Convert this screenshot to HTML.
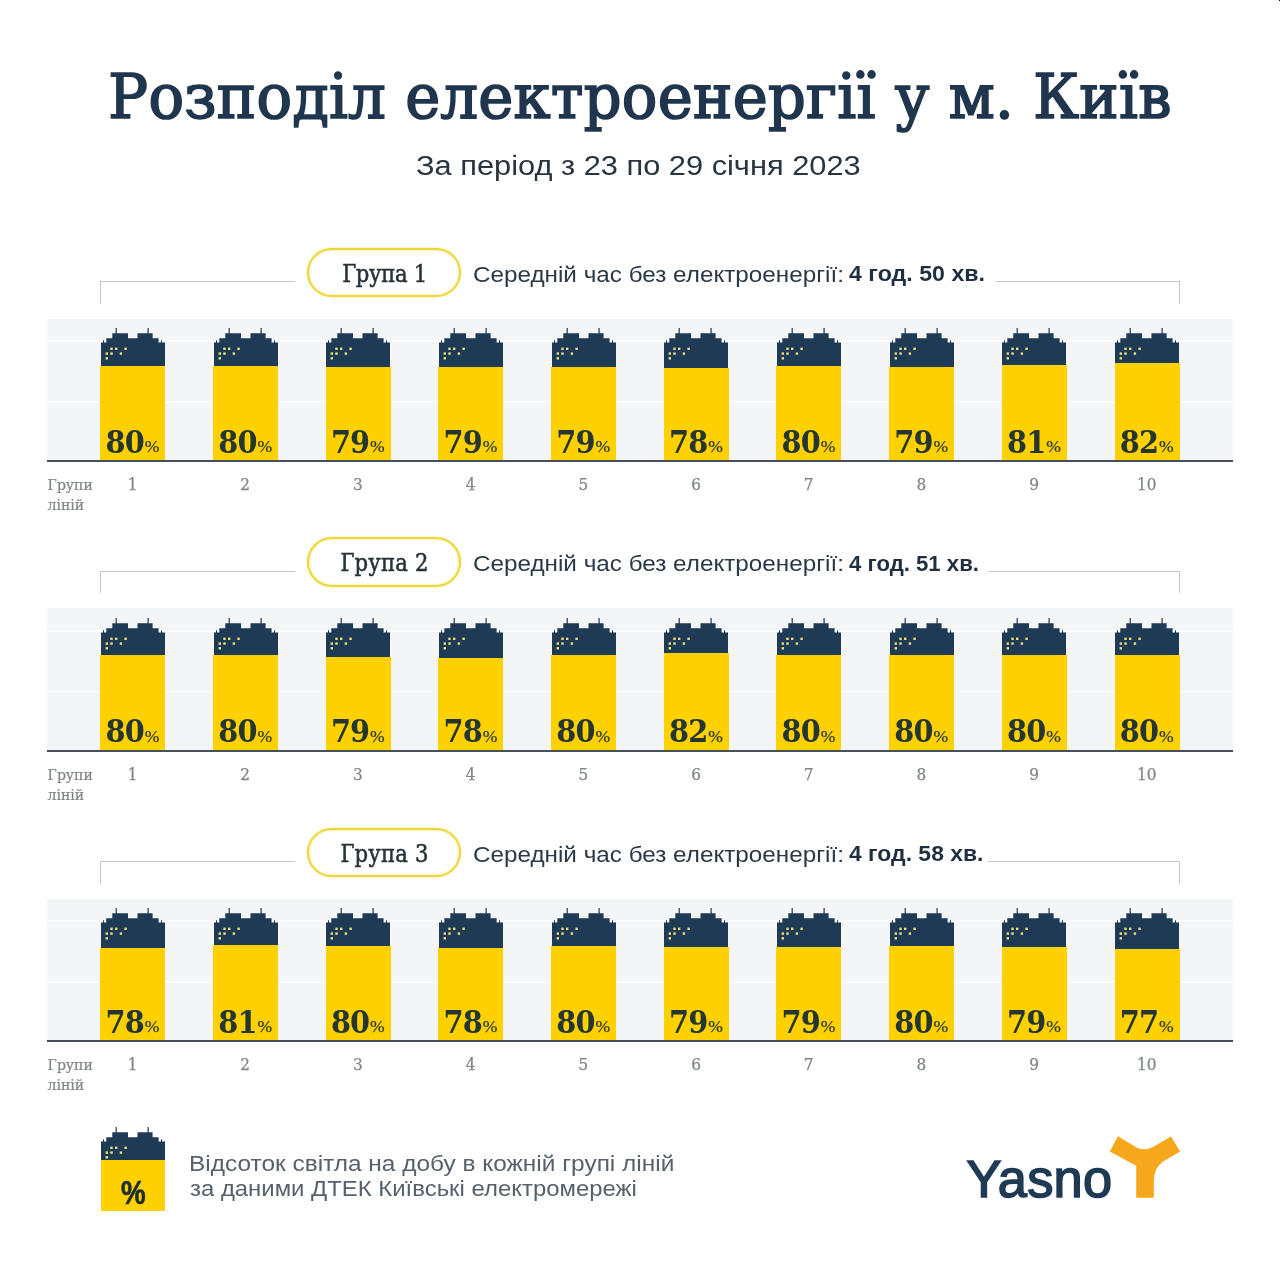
<!DOCTYPE html><html lang="uk"><head><meta charset="utf-8"><title>Розподіл електроенергії у м. Київ</title><style>
*{margin:0;padding:0;box-sizing:border-box}
html,body{width:1280px;height:1280px;background:#fff;overflow:hidden}
body{position:relative;font-family:"Liberation Sans",sans-serif;color:#1f3a54}
.abs{position:absolute;white-space:nowrap;line-height:1}
.title{left:0;width:1280px;text-align:center;top:65.8px;font-family:"DejaVu Serif Condensed","DejaVu Serif","Liberation Serif",serif;font-size:62.5px;color:#1f364e;-webkit-text-stroke:1.7px #1f364e;letter-spacing:0.3px;transform:scaleX(1.0505);transform-origin:639px 0}
.sub{font-size:28.4px;color:#28343f;transform:scaleX(1.0845);transform-origin:0 0}
.group{position:absolute;left:0;width:1280px;height:290px}
.band{position:absolute;left:47px;width:1186px;top:318.6px;height:142px;background:#f4f5f7}
.grid{position:absolute;left:47px;width:1186px;height:1.6px;background:rgba(255,255,255,.7)}
.axis{position:absolute;left:47px;width:1186px;top:460.2px;height:2px;background:#46505b}
.pill{position:absolute;left:307.4px;top:247.8px;width:153.2px;height:49.4px;border:2.7px solid #ecd63e;border-radius:25px;background:#fff;box-shadow:0 0 2.5px 0.5px rgba(245,232,120,.55),inset 0 0 2px 1px rgba(250,240,150,.7)}
.ptxt{font-family:"DejaVu Serif Condensed","DejaVu Serif","Liberation Serif",serif;font-size:23.5px;color:#263238;-webkit-text-stroke:0.5px #263238;letter-spacing:-0.35px}
.avg{font-size:22.5px;color:#2b3947;transform:scaleX(1.0778);transform-origin:0 0}
.avgb{font-size:21.4px;font-weight:bold;color:#1f2f40;transform:scaleX(1.084);transform-origin:0 0}
.br{position:absolute;border-top:1.3px solid #c4c6c8;height:22.6px;top:281.1px}
.brl{left:99.8px;width:195.5px;border-left:1.3px solid #c4c6c8}
.brr{left:996px;width:183.5px;border-right:1.3px solid #c4c6c8}
.bld{position:absolute;width:66px;height:134px;top:327px}
.num{font-family:"DejaVu Serif Condensed","DejaVu Serif","Liberation Serif",serif;font-weight:bold;font-size:32px;color:#25352f;letter-spacing:-0.8px}
.pct{font-family:"Liberation Serif",serif;font-size:17.6px;color:#2d3a30;-webkit-text-stroke:0.25px #2d3a30}
.ax{font-family:"DejaVu Serif Condensed","DejaVu Serif","Liberation Serif",serif;font-size:17px;color:#7f858b;-webkit-text-stroke:0.25px #7f858b;text-align:center;width:40px}
.gl{font-family:"DejaVu Serif Condensed","DejaVu Serif","Liberation Serif",serif;font-size:15.6px;color:#7f8489;-webkit-text-stroke:0.2px #7f8489;line-height:20.3px;white-space:normal;width:60px}
.leg{font-size:21px;color:#56616c}
</style></head><body>
<div class="abs title" id="title">Розподіл електроенергії у м. Київ</div>
<div class="abs sub" id="sub" style="left:416px;top:151.2px">За період з 23 по 29 січня 2023</div>
<div class="group" id="g0" style="top:0.0px">
<div class="br brl"></div><div class="br brr" style="left:995.6px;width:184.4px"></div>
<div class="pill"></div><div class="abs ptxt" style="left:308px;width:153px;text-align:center;top:262.8px;letter-spacing:-0.3px">Група 1</div>
<div class="abs avg" style="left:472.5px;top:263.7px">Середній час без електроенергії:</div>
<div class="abs avgb" style="left:849.3px;top:264.1px;transform:scaleX(1.084)">4 год. 50 хв.</div>
<div class="band"></div><div class="grid" style="top:340.4px"></div><div class="grid" style="top:401px"></div>
<svg class="bld" style="left:99.8px" viewBox="0 0 66 134"><path fill="#1f3a54" d="M1,133.5V15.5H3V13.2H4V15.5H6.3V11.2H12.3V6.2H15.6V1H16.8V6.2H28V11.2H37.5V6.2H47.5V1H48.7V6.2H52.6V11.2H58.6V15.5H61V13.2H62V15.5H65V133.5Z"/><g fill="#e9e07c"><rect x="10.3" y="20.6" width="2.4" height="2.4"/><rect x="15" y="20.6" width="2.4" height="2.4"/><rect x="24.4" y="20.6" width="2.4" height="2.4"/><rect x="5.6" y="25.4" width="2.4" height="2.4"/><rect x="10.3" y="25.4" width="2.4" height="2.4"/><rect x="19.7" y="25.4" width="2.4" height="2.4"/><rect x="5.6" y="30.1" width="2.4" height="2.4"/></g></svg>
<div style="position:absolute;left:100.3px;width:65px;top:365.8px;height:94.8px;background:#ffd100"></div>
<div class="abs num" style="left:105.5px;top:425.6px">80</div><div class="abs pct" style="left:144.8px;top:438.1px">%</div>
<div class="abs ax" style="left:112.5px;top:476.1px">1</div>
<svg class="bld" style="left:212.5px" viewBox="0 0 66 134"><path fill="#1f3a54" d="M1,133.5V15.5H3V13.2H4V15.5H6.3V11.2H12.3V6.2H15.6V1H16.8V6.2H28V11.2H37.5V6.2H47.5V1H48.7V6.2H52.6V11.2H58.6V15.5H61V13.2H62V15.5H65V133.5Z"/><g fill="#e9e07c"><rect x="10.3" y="20.6" width="2.4" height="2.4"/><rect x="15" y="20.6" width="2.4" height="2.4"/><rect x="24.4" y="20.6" width="2.4" height="2.4"/><rect x="5.6" y="25.4" width="2.4" height="2.4"/><rect x="10.3" y="25.4" width="2.4" height="2.4"/><rect x="19.7" y="25.4" width="2.4" height="2.4"/><rect x="5.6" y="30.1" width="2.4" height="2.4"/></g></svg>
<div style="position:absolute;left:213.0px;width:65px;top:365.8px;height:94.8px;background:#ffd100"></div>
<div class="abs num" style="left:218.2px;top:425.6px">80</div><div class="abs pct" style="left:257.4px;top:438.1px">%</div>
<div class="abs ax" style="left:225.2px;top:476.1px">2</div>
<svg class="bld" style="left:325.2px" viewBox="0 0 66 134"><path fill="#1f3a54" d="M1,133.5V15.5H3V13.2H4V15.5H6.3V11.2H12.3V6.2H15.6V1H16.8V6.2H28V11.2H37.5V6.2H47.5V1H48.7V6.2H52.6V11.2H58.6V15.5H61V13.2H62V15.5H65V133.5Z"/><g fill="#e9e07c"><rect x="10.3" y="20.6" width="2.4" height="2.4"/><rect x="15" y="20.6" width="2.4" height="2.4"/><rect x="24.4" y="20.6" width="2.4" height="2.4"/><rect x="5.6" y="25.4" width="2.4" height="2.4"/><rect x="10.3" y="25.4" width="2.4" height="2.4"/><rect x="19.7" y="25.4" width="2.4" height="2.4"/><rect x="5.6" y="30.1" width="2.4" height="2.4"/></g></svg>
<div style="position:absolute;left:325.7px;width:65px;top:367.0px;height:93.6px;background:#ffd100"></div>
<div class="abs num" style="left:330.9px;top:425.6px">79</div><div class="abs pct" style="left:370.1px;top:438.1px">%</div>
<div class="abs ax" style="left:337.9px;top:476.1px">3</div>
<svg class="bld" style="left:437.9px" viewBox="0 0 66 134"><path fill="#1f3a54" d="M1,133.5V15.5H3V13.2H4V15.5H6.3V11.2H12.3V6.2H15.6V1H16.8V6.2H28V11.2H37.5V6.2H47.5V1H48.7V6.2H52.6V11.2H58.6V15.5H61V13.2H62V15.5H65V133.5Z"/><g fill="#e9e07c"><rect x="10.3" y="20.6" width="2.4" height="2.4"/><rect x="15" y="20.6" width="2.4" height="2.4"/><rect x="24.4" y="20.6" width="2.4" height="2.4"/><rect x="5.6" y="25.4" width="2.4" height="2.4"/><rect x="10.3" y="25.4" width="2.4" height="2.4"/><rect x="19.7" y="25.4" width="2.4" height="2.4"/><rect x="5.6" y="30.1" width="2.4" height="2.4"/></g></svg>
<div style="position:absolute;left:438.4px;width:65px;top:367.0px;height:93.6px;background:#ffd100"></div>
<div class="abs num" style="left:443.6px;top:425.6px">79</div><div class="abs pct" style="left:482.8px;top:438.1px">%</div>
<div class="abs ax" style="left:450.6px;top:476.1px">4</div>
<svg class="bld" style="left:550.6px" viewBox="0 0 66 134"><path fill="#1f3a54" d="M1,133.5V15.5H3V13.2H4V15.5H6.3V11.2H12.3V6.2H15.6V1H16.8V6.2H28V11.2H37.5V6.2H47.5V1H48.7V6.2H52.6V11.2H58.6V15.5H61V13.2H62V15.5H65V133.5Z"/><g fill="#e9e07c"><rect x="10.3" y="20.6" width="2.4" height="2.4"/><rect x="15" y="20.6" width="2.4" height="2.4"/><rect x="24.4" y="20.6" width="2.4" height="2.4"/><rect x="5.6" y="25.4" width="2.4" height="2.4"/><rect x="10.3" y="25.4" width="2.4" height="2.4"/><rect x="19.7" y="25.4" width="2.4" height="2.4"/><rect x="5.6" y="30.1" width="2.4" height="2.4"/></g></svg>
<div style="position:absolute;left:551.1px;width:65px;top:367.0px;height:93.6px;background:#ffd100"></div>
<div class="abs num" style="left:556.3px;top:425.6px">79</div><div class="abs pct" style="left:595.5px;top:438.1px">%</div>
<div class="abs ax" style="left:563.3px;top:476.1px">5</div>
<svg class="bld" style="left:663.3px" viewBox="0 0 66 134"><path fill="#1f3a54" d="M1,133.5V15.5H3V13.2H4V15.5H6.3V11.2H12.3V6.2H15.6V1H16.8V6.2H28V11.2H37.5V6.2H47.5V1H48.7V6.2H52.6V11.2H58.6V15.5H61V13.2H62V15.5H65V133.5Z"/><g fill="#e9e07c"><rect x="10.3" y="20.6" width="2.4" height="2.4"/><rect x="15" y="20.6" width="2.4" height="2.4"/><rect x="24.4" y="20.6" width="2.4" height="2.4"/><rect x="5.6" y="25.4" width="2.4" height="2.4"/><rect x="10.3" y="25.4" width="2.4" height="2.4"/><rect x="19.7" y="25.4" width="2.4" height="2.4"/><rect x="5.6" y="30.1" width="2.4" height="2.4"/></g></svg>
<div style="position:absolute;left:663.8px;width:65px;top:368.2px;height:92.4px;background:#ffd100"></div>
<div class="abs num" style="left:669.0px;top:425.6px">78</div><div class="abs pct" style="left:708.2px;top:438.1px">%</div>
<div class="abs ax" style="left:676.0px;top:476.1px">6</div>
<svg class="bld" style="left:775.9px" viewBox="0 0 66 134"><path fill="#1f3a54" d="M1,133.5V15.5H3V13.2H4V15.5H6.3V11.2H12.3V6.2H15.6V1H16.8V6.2H28V11.2H37.5V6.2H47.5V1H48.7V6.2H52.6V11.2H58.6V15.5H61V13.2H62V15.5H65V133.5Z"/><g fill="#e9e07c"><rect x="10.3" y="20.6" width="2.4" height="2.4"/><rect x="15" y="20.6" width="2.4" height="2.4"/><rect x="24.4" y="20.6" width="2.4" height="2.4"/><rect x="5.6" y="25.4" width="2.4" height="2.4"/><rect x="10.3" y="25.4" width="2.4" height="2.4"/><rect x="19.7" y="25.4" width="2.4" height="2.4"/><rect x="5.6" y="30.1" width="2.4" height="2.4"/></g></svg>
<div style="position:absolute;left:776.4px;width:65px;top:365.8px;height:94.8px;background:#ffd100"></div>
<div class="abs num" style="left:781.6px;top:425.6px">80</div><div class="abs pct" style="left:820.8px;top:438.1px">%</div>
<div class="abs ax" style="left:788.6px;top:476.1px">7</div>
<svg class="bld" style="left:888.6px" viewBox="0 0 66 134"><path fill="#1f3a54" d="M1,133.5V15.5H3V13.2H4V15.5H6.3V11.2H12.3V6.2H15.6V1H16.8V6.2H28V11.2H37.5V6.2H47.5V1H48.7V6.2H52.6V11.2H58.6V15.5H61V13.2H62V15.5H65V133.5Z"/><g fill="#e9e07c"><rect x="10.3" y="20.6" width="2.4" height="2.4"/><rect x="15" y="20.6" width="2.4" height="2.4"/><rect x="24.4" y="20.6" width="2.4" height="2.4"/><rect x="5.6" y="25.4" width="2.4" height="2.4"/><rect x="10.3" y="25.4" width="2.4" height="2.4"/><rect x="19.7" y="25.4" width="2.4" height="2.4"/><rect x="5.6" y="30.1" width="2.4" height="2.4"/></g></svg>
<div style="position:absolute;left:889.1px;width:65px;top:367.0px;height:93.6px;background:#ffd100"></div>
<div class="abs num" style="left:894.3px;top:425.6px">79</div><div class="abs pct" style="left:933.5px;top:438.1px">%</div>
<div class="abs ax" style="left:901.3px;top:476.1px">8</div>
<svg class="bld" style="left:1001.3px" viewBox="0 0 66 134"><path fill="#1f3a54" d="M1,133.5V15.5H3V13.2H4V15.5H6.3V11.2H12.3V6.2H15.6V1H16.8V6.2H28V11.2H37.5V6.2H47.5V1H48.7V6.2H52.6V11.2H58.6V15.5H61V13.2H62V15.5H65V133.5Z"/><g fill="#e9e07c"><rect x="10.3" y="20.6" width="2.4" height="2.4"/><rect x="15" y="20.6" width="2.4" height="2.4"/><rect x="24.4" y="20.6" width="2.4" height="2.4"/><rect x="5.6" y="25.4" width="2.4" height="2.4"/><rect x="10.3" y="25.4" width="2.4" height="2.4"/><rect x="19.7" y="25.4" width="2.4" height="2.4"/><rect x="5.6" y="30.1" width="2.4" height="2.4"/></g></svg>
<div style="position:absolute;left:1001.8px;width:65px;top:364.6px;height:96.0px;background:#ffd100"></div>
<div class="abs num" style="left:1007.0px;top:425.6px">81</div><div class="abs pct" style="left:1046.2px;top:438.1px">%</div>
<div class="abs ax" style="left:1014.0px;top:476.1px">9</div>
<svg class="bld" style="left:1114.0px" viewBox="0 0 66 134"><path fill="#1f3a54" d="M1,133.5V15.5H3V13.2H4V15.5H6.3V11.2H12.3V6.2H15.6V1H16.8V6.2H28V11.2H37.5V6.2H47.5V1H48.7V6.2H52.6V11.2H58.6V15.5H61V13.2H62V15.5H65V133.5Z"/><g fill="#e9e07c"><rect x="10.3" y="20.6" width="2.4" height="2.4"/><rect x="15" y="20.6" width="2.4" height="2.4"/><rect x="24.4" y="20.6" width="2.4" height="2.4"/><rect x="5.6" y="25.4" width="2.4" height="2.4"/><rect x="10.3" y="25.4" width="2.4" height="2.4"/><rect x="19.7" y="25.4" width="2.4" height="2.4"/><rect x="5.6" y="30.1" width="2.4" height="2.4"/></g></svg>
<div style="position:absolute;left:1114.5px;width:65px;top:363.4px;height:97.2px;background:#ffd100"></div>
<div class="abs num" style="left:1119.7px;top:425.6px">82</div><div class="abs pct" style="left:1158.9px;top:438.1px">%</div>
<div class="abs ax" style="left:1126.7px;top:476.1px">10</div>
<div class="axis"></div>
<div class="abs gl" style="left:47.6px;top:475px">Групи ліній</div>
</div>
<div class="group" id="g1" style="top:289.6px">
<div class="br brl"></div><div class="br brr" style="left:988.2px;width:191.8px"></div>
<div class="pill"></div><div class="abs ptxt" style="left:308px;width:153px;text-align:center;top:262.8px;letter-spacing:0.2px">Група 2</div>
<div class="abs avg" style="left:472.5px;top:263.7px">Середній час без електроенергії:</div>
<div class="abs avgb" style="left:849.3px;top:264.1px;transform:scaleX(1.036)">4 год. 51 хв.</div>
<div class="band"></div><div class="grid" style="top:340.4px"></div><div class="grid" style="top:401px"></div>
<svg class="bld" style="left:99.8px" viewBox="0 0 66 134"><path fill="#1f3a54" d="M1,133.5V15.5H3V13.2H4V15.5H6.3V11.2H12.3V6.2H15.6V1H16.8V6.2H28V11.2H37.5V6.2H47.5V1H48.7V6.2H52.6V11.2H58.6V15.5H61V13.2H62V15.5H65V133.5Z"/><g fill="#e9e07c"><rect x="10.3" y="20.6" width="2.4" height="2.4"/><rect x="15" y="20.6" width="2.4" height="2.4"/><rect x="24.4" y="20.6" width="2.4" height="2.4"/><rect x="5.6" y="25.4" width="2.4" height="2.4"/><rect x="10.3" y="25.4" width="2.4" height="2.4"/><rect x="19.7" y="25.4" width="2.4" height="2.4"/><rect x="5.6" y="30.1" width="2.4" height="2.4"/></g></svg>
<div style="position:absolute;left:100.3px;width:65px;top:365.8px;height:94.8px;background:#ffd100"></div>
<div class="abs num" style="left:105.5px;top:425.6px">80</div><div class="abs pct" style="left:144.8px;top:438.1px">%</div>
<div class="abs ax" style="left:112.5px;top:476.1px">1</div>
<svg class="bld" style="left:212.5px" viewBox="0 0 66 134"><path fill="#1f3a54" d="M1,133.5V15.5H3V13.2H4V15.5H6.3V11.2H12.3V6.2H15.6V1H16.8V6.2H28V11.2H37.5V6.2H47.5V1H48.7V6.2H52.6V11.2H58.6V15.5H61V13.2H62V15.5H65V133.5Z"/><g fill="#e9e07c"><rect x="10.3" y="20.6" width="2.4" height="2.4"/><rect x="15" y="20.6" width="2.4" height="2.4"/><rect x="24.4" y="20.6" width="2.4" height="2.4"/><rect x="5.6" y="25.4" width="2.4" height="2.4"/><rect x="10.3" y="25.4" width="2.4" height="2.4"/><rect x="19.7" y="25.4" width="2.4" height="2.4"/><rect x="5.6" y="30.1" width="2.4" height="2.4"/></g></svg>
<div style="position:absolute;left:213.0px;width:65px;top:365.8px;height:94.8px;background:#ffd100"></div>
<div class="abs num" style="left:218.2px;top:425.6px">80</div><div class="abs pct" style="left:257.4px;top:438.1px">%</div>
<div class="abs ax" style="left:225.2px;top:476.1px">2</div>
<svg class="bld" style="left:325.2px" viewBox="0 0 66 134"><path fill="#1f3a54" d="M1,133.5V15.5H3V13.2H4V15.5H6.3V11.2H12.3V6.2H15.6V1H16.8V6.2H28V11.2H37.5V6.2H47.5V1H48.7V6.2H52.6V11.2H58.6V15.5H61V13.2H62V15.5H65V133.5Z"/><g fill="#e9e07c"><rect x="10.3" y="20.6" width="2.4" height="2.4"/><rect x="15" y="20.6" width="2.4" height="2.4"/><rect x="24.4" y="20.6" width="2.4" height="2.4"/><rect x="5.6" y="25.4" width="2.4" height="2.4"/><rect x="10.3" y="25.4" width="2.4" height="2.4"/><rect x="19.7" y="25.4" width="2.4" height="2.4"/><rect x="5.6" y="30.1" width="2.4" height="2.4"/></g></svg>
<div style="position:absolute;left:325.7px;width:65px;top:367.0px;height:93.6px;background:#ffd100"></div>
<div class="abs num" style="left:330.9px;top:425.6px">79</div><div class="abs pct" style="left:370.1px;top:438.1px">%</div>
<div class="abs ax" style="left:337.9px;top:476.1px">3</div>
<svg class="bld" style="left:437.9px" viewBox="0 0 66 134"><path fill="#1f3a54" d="M1,133.5V15.5H3V13.2H4V15.5H6.3V11.2H12.3V6.2H15.6V1H16.8V6.2H28V11.2H37.5V6.2H47.5V1H48.7V6.2H52.6V11.2H58.6V15.5H61V13.2H62V15.5H65V133.5Z"/><g fill="#e9e07c"><rect x="10.3" y="20.6" width="2.4" height="2.4"/><rect x="15" y="20.6" width="2.4" height="2.4"/><rect x="24.4" y="20.6" width="2.4" height="2.4"/><rect x="5.6" y="25.4" width="2.4" height="2.4"/><rect x="10.3" y="25.4" width="2.4" height="2.4"/><rect x="19.7" y="25.4" width="2.4" height="2.4"/><rect x="5.6" y="30.1" width="2.4" height="2.4"/></g></svg>
<div style="position:absolute;left:438.4px;width:65px;top:368.2px;height:92.4px;background:#ffd100"></div>
<div class="abs num" style="left:443.6px;top:425.6px">78</div><div class="abs pct" style="left:482.8px;top:438.1px">%</div>
<div class="abs ax" style="left:450.6px;top:476.1px">4</div>
<svg class="bld" style="left:550.6px" viewBox="0 0 66 134"><path fill="#1f3a54" d="M1,133.5V15.5H3V13.2H4V15.5H6.3V11.2H12.3V6.2H15.6V1H16.8V6.2H28V11.2H37.5V6.2H47.5V1H48.7V6.2H52.6V11.2H58.6V15.5H61V13.2H62V15.5H65V133.5Z"/><g fill="#e9e07c"><rect x="10.3" y="20.6" width="2.4" height="2.4"/><rect x="15" y="20.6" width="2.4" height="2.4"/><rect x="24.4" y="20.6" width="2.4" height="2.4"/><rect x="5.6" y="25.4" width="2.4" height="2.4"/><rect x="10.3" y="25.4" width="2.4" height="2.4"/><rect x="19.7" y="25.4" width="2.4" height="2.4"/><rect x="5.6" y="30.1" width="2.4" height="2.4"/></g></svg>
<div style="position:absolute;left:551.1px;width:65px;top:365.8px;height:94.8px;background:#ffd100"></div>
<div class="abs num" style="left:556.3px;top:425.6px">80</div><div class="abs pct" style="left:595.5px;top:438.1px">%</div>
<div class="abs ax" style="left:563.3px;top:476.1px">5</div>
<svg class="bld" style="left:663.3px" viewBox="0 0 66 134"><path fill="#1f3a54" d="M1,133.5V15.5H3V13.2H4V15.5H6.3V11.2H12.3V6.2H15.6V1H16.8V6.2H28V11.2H37.5V6.2H47.5V1H48.7V6.2H52.6V11.2H58.6V15.5H61V13.2H62V15.5H65V133.5Z"/><g fill="#e9e07c"><rect x="10.3" y="20.6" width="2.4" height="2.4"/><rect x="15" y="20.6" width="2.4" height="2.4"/><rect x="24.4" y="20.6" width="2.4" height="2.4"/><rect x="5.6" y="25.4" width="2.4" height="2.4"/><rect x="10.3" y="25.4" width="2.4" height="2.4"/><rect x="19.7" y="25.4" width="2.4" height="2.4"/><rect x="5.6" y="30.1" width="2.4" height="2.4"/></g></svg>
<div style="position:absolute;left:663.8px;width:65px;top:363.4px;height:97.2px;background:#ffd100"></div>
<div class="abs num" style="left:669.0px;top:425.6px">82</div><div class="abs pct" style="left:708.2px;top:438.1px">%</div>
<div class="abs ax" style="left:676.0px;top:476.1px">6</div>
<svg class="bld" style="left:775.9px" viewBox="0 0 66 134"><path fill="#1f3a54" d="M1,133.5V15.5H3V13.2H4V15.5H6.3V11.2H12.3V6.2H15.6V1H16.8V6.2H28V11.2H37.5V6.2H47.5V1H48.7V6.2H52.6V11.2H58.6V15.5H61V13.2H62V15.5H65V133.5Z"/><g fill="#e9e07c"><rect x="10.3" y="20.6" width="2.4" height="2.4"/><rect x="15" y="20.6" width="2.4" height="2.4"/><rect x="24.4" y="20.6" width="2.4" height="2.4"/><rect x="5.6" y="25.4" width="2.4" height="2.4"/><rect x="10.3" y="25.4" width="2.4" height="2.4"/><rect x="19.7" y="25.4" width="2.4" height="2.4"/><rect x="5.6" y="30.1" width="2.4" height="2.4"/></g></svg>
<div style="position:absolute;left:776.4px;width:65px;top:365.8px;height:94.8px;background:#ffd100"></div>
<div class="abs num" style="left:781.6px;top:425.6px">80</div><div class="abs pct" style="left:820.8px;top:438.1px">%</div>
<div class="abs ax" style="left:788.6px;top:476.1px">7</div>
<svg class="bld" style="left:888.6px" viewBox="0 0 66 134"><path fill="#1f3a54" d="M1,133.5V15.5H3V13.2H4V15.5H6.3V11.2H12.3V6.2H15.6V1H16.8V6.2H28V11.2H37.5V6.2H47.5V1H48.7V6.2H52.6V11.2H58.6V15.5H61V13.2H62V15.5H65V133.5Z"/><g fill="#e9e07c"><rect x="10.3" y="20.6" width="2.4" height="2.4"/><rect x="15" y="20.6" width="2.4" height="2.4"/><rect x="24.4" y="20.6" width="2.4" height="2.4"/><rect x="5.6" y="25.4" width="2.4" height="2.4"/><rect x="10.3" y="25.4" width="2.4" height="2.4"/><rect x="19.7" y="25.4" width="2.4" height="2.4"/><rect x="5.6" y="30.1" width="2.4" height="2.4"/></g></svg>
<div style="position:absolute;left:889.1px;width:65px;top:365.8px;height:94.8px;background:#ffd100"></div>
<div class="abs num" style="left:894.3px;top:425.6px">80</div><div class="abs pct" style="left:933.5px;top:438.1px">%</div>
<div class="abs ax" style="left:901.3px;top:476.1px">8</div>
<svg class="bld" style="left:1001.3px" viewBox="0 0 66 134"><path fill="#1f3a54" d="M1,133.5V15.5H3V13.2H4V15.5H6.3V11.2H12.3V6.2H15.6V1H16.8V6.2H28V11.2H37.5V6.2H47.5V1H48.7V6.2H52.6V11.2H58.6V15.5H61V13.2H62V15.5H65V133.5Z"/><g fill="#e9e07c"><rect x="10.3" y="20.6" width="2.4" height="2.4"/><rect x="15" y="20.6" width="2.4" height="2.4"/><rect x="24.4" y="20.6" width="2.4" height="2.4"/><rect x="5.6" y="25.4" width="2.4" height="2.4"/><rect x="10.3" y="25.4" width="2.4" height="2.4"/><rect x="19.7" y="25.4" width="2.4" height="2.4"/><rect x="5.6" y="30.1" width="2.4" height="2.4"/></g></svg>
<div style="position:absolute;left:1001.8px;width:65px;top:365.8px;height:94.8px;background:#ffd100"></div>
<div class="abs num" style="left:1007.0px;top:425.6px">80</div><div class="abs pct" style="left:1046.2px;top:438.1px">%</div>
<div class="abs ax" style="left:1014.0px;top:476.1px">9</div>
<svg class="bld" style="left:1114.0px" viewBox="0 0 66 134"><path fill="#1f3a54" d="M1,133.5V15.5H3V13.2H4V15.5H6.3V11.2H12.3V6.2H15.6V1H16.8V6.2H28V11.2H37.5V6.2H47.5V1H48.7V6.2H52.6V11.2H58.6V15.5H61V13.2H62V15.5H65V133.5Z"/><g fill="#e9e07c"><rect x="10.3" y="20.6" width="2.4" height="2.4"/><rect x="15" y="20.6" width="2.4" height="2.4"/><rect x="24.4" y="20.6" width="2.4" height="2.4"/><rect x="5.6" y="25.4" width="2.4" height="2.4"/><rect x="10.3" y="25.4" width="2.4" height="2.4"/><rect x="19.7" y="25.4" width="2.4" height="2.4"/><rect x="5.6" y="30.1" width="2.4" height="2.4"/></g></svg>
<div style="position:absolute;left:1114.5px;width:65px;top:365.8px;height:94.8px;background:#ffd100"></div>
<div class="abs num" style="left:1119.7px;top:425.6px">80</div><div class="abs pct" style="left:1158.9px;top:438.1px">%</div>
<div class="abs ax" style="left:1126.7px;top:476.1px">10</div>
<div class="axis"></div>
<div class="abs gl" style="left:47.6px;top:475px">Групи ліній</div>
</div>
<div class="group" id="g2" style="top:580.0px">
<div class="br brl"></div><div class="br brr" style="left:988.2px;width:191.8px"></div>
<div class="pill"></div><div class="abs ptxt" style="left:308px;width:153px;text-align:center;top:262.8px;letter-spacing:0.2px">Група 3</div>
<div class="abs avg" style="left:472.5px;top:263.7px">Середній час без електроенергії:</div>
<div class="abs avgb" style="left:849.3px;top:264.1px;transform:scaleX(1.072)">4 год. 58 хв.</div>
<div class="band"></div><div class="grid" style="top:340.4px"></div><div class="grid" style="top:401px"></div>
<svg class="bld" style="left:99.8px" viewBox="0 0 66 134"><path fill="#1f3a54" d="M1,133.5V15.5H3V13.2H4V15.5H6.3V11.2H12.3V6.2H15.6V1H16.8V6.2H28V11.2H37.5V6.2H47.5V1H48.7V6.2H52.6V11.2H58.6V15.5H61V13.2H62V15.5H65V133.5Z"/><g fill="#e9e07c"><rect x="10.3" y="20.6" width="2.4" height="2.4"/><rect x="15" y="20.6" width="2.4" height="2.4"/><rect x="24.4" y="20.6" width="2.4" height="2.4"/><rect x="5.6" y="25.4" width="2.4" height="2.4"/><rect x="10.3" y="25.4" width="2.4" height="2.4"/><rect x="19.7" y="25.4" width="2.4" height="2.4"/><rect x="5.6" y="30.1" width="2.4" height="2.4"/></g></svg>
<div style="position:absolute;left:100.3px;width:65px;top:368.2px;height:92.4px;background:#ffd100"></div>
<div class="abs num" style="left:105.5px;top:425.6px">78</div><div class="abs pct" style="left:144.8px;top:438.1px">%</div>
<div class="abs ax" style="left:112.5px;top:476.1px">1</div>
<svg class="bld" style="left:212.5px" viewBox="0 0 66 134"><path fill="#1f3a54" d="M1,133.5V15.5H3V13.2H4V15.5H6.3V11.2H12.3V6.2H15.6V1H16.8V6.2H28V11.2H37.5V6.2H47.5V1H48.7V6.2H52.6V11.2H58.6V15.5H61V13.2H62V15.5H65V133.5Z"/><g fill="#e9e07c"><rect x="10.3" y="20.6" width="2.4" height="2.4"/><rect x="15" y="20.6" width="2.4" height="2.4"/><rect x="24.4" y="20.6" width="2.4" height="2.4"/><rect x="5.6" y="25.4" width="2.4" height="2.4"/><rect x="10.3" y="25.4" width="2.4" height="2.4"/><rect x="19.7" y="25.4" width="2.4" height="2.4"/><rect x="5.6" y="30.1" width="2.4" height="2.4"/></g></svg>
<div style="position:absolute;left:213.0px;width:65px;top:364.6px;height:96.0px;background:#ffd100"></div>
<div class="abs num" style="left:218.2px;top:425.6px">81</div><div class="abs pct" style="left:257.4px;top:438.1px">%</div>
<div class="abs ax" style="left:225.2px;top:476.1px">2</div>
<svg class="bld" style="left:325.2px" viewBox="0 0 66 134"><path fill="#1f3a54" d="M1,133.5V15.5H3V13.2H4V15.5H6.3V11.2H12.3V6.2H15.6V1H16.8V6.2H28V11.2H37.5V6.2H47.5V1H48.7V6.2H52.6V11.2H58.6V15.5H61V13.2H62V15.5H65V133.5Z"/><g fill="#e9e07c"><rect x="10.3" y="20.6" width="2.4" height="2.4"/><rect x="15" y="20.6" width="2.4" height="2.4"/><rect x="24.4" y="20.6" width="2.4" height="2.4"/><rect x="5.6" y="25.4" width="2.4" height="2.4"/><rect x="10.3" y="25.4" width="2.4" height="2.4"/><rect x="19.7" y="25.4" width="2.4" height="2.4"/><rect x="5.6" y="30.1" width="2.4" height="2.4"/></g></svg>
<div style="position:absolute;left:325.7px;width:65px;top:365.8px;height:94.8px;background:#ffd100"></div>
<div class="abs num" style="left:330.9px;top:425.6px">80</div><div class="abs pct" style="left:370.1px;top:438.1px">%</div>
<div class="abs ax" style="left:337.9px;top:476.1px">3</div>
<svg class="bld" style="left:437.9px" viewBox="0 0 66 134"><path fill="#1f3a54" d="M1,133.5V15.5H3V13.2H4V15.5H6.3V11.2H12.3V6.2H15.6V1H16.8V6.2H28V11.2H37.5V6.2H47.5V1H48.7V6.2H52.6V11.2H58.6V15.5H61V13.2H62V15.5H65V133.5Z"/><g fill="#e9e07c"><rect x="10.3" y="20.6" width="2.4" height="2.4"/><rect x="15" y="20.6" width="2.4" height="2.4"/><rect x="24.4" y="20.6" width="2.4" height="2.4"/><rect x="5.6" y="25.4" width="2.4" height="2.4"/><rect x="10.3" y="25.4" width="2.4" height="2.4"/><rect x="19.7" y="25.4" width="2.4" height="2.4"/><rect x="5.6" y="30.1" width="2.4" height="2.4"/></g></svg>
<div style="position:absolute;left:438.4px;width:65px;top:368.2px;height:92.4px;background:#ffd100"></div>
<div class="abs num" style="left:443.6px;top:425.6px">78</div><div class="abs pct" style="left:482.8px;top:438.1px">%</div>
<div class="abs ax" style="left:450.6px;top:476.1px">4</div>
<svg class="bld" style="left:550.6px" viewBox="0 0 66 134"><path fill="#1f3a54" d="M1,133.5V15.5H3V13.2H4V15.5H6.3V11.2H12.3V6.2H15.6V1H16.8V6.2H28V11.2H37.5V6.2H47.5V1H48.7V6.2H52.6V11.2H58.6V15.5H61V13.2H62V15.5H65V133.5Z"/><g fill="#e9e07c"><rect x="10.3" y="20.6" width="2.4" height="2.4"/><rect x="15" y="20.6" width="2.4" height="2.4"/><rect x="24.4" y="20.6" width="2.4" height="2.4"/><rect x="5.6" y="25.4" width="2.4" height="2.4"/><rect x="10.3" y="25.4" width="2.4" height="2.4"/><rect x="19.7" y="25.4" width="2.4" height="2.4"/><rect x="5.6" y="30.1" width="2.4" height="2.4"/></g></svg>
<div style="position:absolute;left:551.1px;width:65px;top:365.8px;height:94.8px;background:#ffd100"></div>
<div class="abs num" style="left:556.3px;top:425.6px">80</div><div class="abs pct" style="left:595.5px;top:438.1px">%</div>
<div class="abs ax" style="left:563.3px;top:476.1px">5</div>
<svg class="bld" style="left:663.3px" viewBox="0 0 66 134"><path fill="#1f3a54" d="M1,133.5V15.5H3V13.2H4V15.5H6.3V11.2H12.3V6.2H15.6V1H16.8V6.2H28V11.2H37.5V6.2H47.5V1H48.7V6.2H52.6V11.2H58.6V15.5H61V13.2H62V15.5H65V133.5Z"/><g fill="#e9e07c"><rect x="10.3" y="20.6" width="2.4" height="2.4"/><rect x="15" y="20.6" width="2.4" height="2.4"/><rect x="24.4" y="20.6" width="2.4" height="2.4"/><rect x="5.6" y="25.4" width="2.4" height="2.4"/><rect x="10.3" y="25.4" width="2.4" height="2.4"/><rect x="19.7" y="25.4" width="2.4" height="2.4"/><rect x="5.6" y="30.1" width="2.4" height="2.4"/></g></svg>
<div style="position:absolute;left:663.8px;width:65px;top:367.0px;height:93.6px;background:#ffd100"></div>
<div class="abs num" style="left:669.0px;top:425.6px">79</div><div class="abs pct" style="left:708.2px;top:438.1px">%</div>
<div class="abs ax" style="left:676.0px;top:476.1px">6</div>
<svg class="bld" style="left:775.9px" viewBox="0 0 66 134"><path fill="#1f3a54" d="M1,133.5V15.5H3V13.2H4V15.5H6.3V11.2H12.3V6.2H15.6V1H16.8V6.2H28V11.2H37.5V6.2H47.5V1H48.7V6.2H52.6V11.2H58.6V15.5H61V13.2H62V15.5H65V133.5Z"/><g fill="#e9e07c"><rect x="10.3" y="20.6" width="2.4" height="2.4"/><rect x="15" y="20.6" width="2.4" height="2.4"/><rect x="24.4" y="20.6" width="2.4" height="2.4"/><rect x="5.6" y="25.4" width="2.4" height="2.4"/><rect x="10.3" y="25.4" width="2.4" height="2.4"/><rect x="19.7" y="25.4" width="2.4" height="2.4"/><rect x="5.6" y="30.1" width="2.4" height="2.4"/></g></svg>
<div style="position:absolute;left:776.4px;width:65px;top:367.0px;height:93.6px;background:#ffd100"></div>
<div class="abs num" style="left:781.6px;top:425.6px">79</div><div class="abs pct" style="left:820.8px;top:438.1px">%</div>
<div class="abs ax" style="left:788.6px;top:476.1px">7</div>
<svg class="bld" style="left:888.6px" viewBox="0 0 66 134"><path fill="#1f3a54" d="M1,133.5V15.5H3V13.2H4V15.5H6.3V11.2H12.3V6.2H15.6V1H16.8V6.2H28V11.2H37.5V6.2H47.5V1H48.7V6.2H52.6V11.2H58.6V15.5H61V13.2H62V15.5H65V133.5Z"/><g fill="#e9e07c"><rect x="10.3" y="20.6" width="2.4" height="2.4"/><rect x="15" y="20.6" width="2.4" height="2.4"/><rect x="24.4" y="20.6" width="2.4" height="2.4"/><rect x="5.6" y="25.4" width="2.4" height="2.4"/><rect x="10.3" y="25.4" width="2.4" height="2.4"/><rect x="19.7" y="25.4" width="2.4" height="2.4"/><rect x="5.6" y="30.1" width="2.4" height="2.4"/></g></svg>
<div style="position:absolute;left:889.1px;width:65px;top:365.8px;height:94.8px;background:#ffd100"></div>
<div class="abs num" style="left:894.3px;top:425.6px">80</div><div class="abs pct" style="left:933.5px;top:438.1px">%</div>
<div class="abs ax" style="left:901.3px;top:476.1px">8</div>
<svg class="bld" style="left:1001.3px" viewBox="0 0 66 134"><path fill="#1f3a54" d="M1,133.5V15.5H3V13.2H4V15.5H6.3V11.2H12.3V6.2H15.6V1H16.8V6.2H28V11.2H37.5V6.2H47.5V1H48.7V6.2H52.6V11.2H58.6V15.5H61V13.2H62V15.5H65V133.5Z"/><g fill="#e9e07c"><rect x="10.3" y="20.6" width="2.4" height="2.4"/><rect x="15" y="20.6" width="2.4" height="2.4"/><rect x="24.4" y="20.6" width="2.4" height="2.4"/><rect x="5.6" y="25.4" width="2.4" height="2.4"/><rect x="10.3" y="25.4" width="2.4" height="2.4"/><rect x="19.7" y="25.4" width="2.4" height="2.4"/><rect x="5.6" y="30.1" width="2.4" height="2.4"/></g></svg>
<div style="position:absolute;left:1001.8px;width:65px;top:367.0px;height:93.6px;background:#ffd100"></div>
<div class="abs num" style="left:1007.0px;top:425.6px">79</div><div class="abs pct" style="left:1046.2px;top:438.1px">%</div>
<div class="abs ax" style="left:1014.0px;top:476.1px">9</div>
<svg class="bld" style="left:1114.0px" viewBox="0 0 66 134"><path fill="#1f3a54" d="M1,133.5V15.5H3V13.2H4V15.5H6.3V11.2H12.3V6.2H15.6V1H16.8V6.2H28V11.2H37.5V6.2H47.5V1H48.7V6.2H52.6V11.2H58.6V15.5H61V13.2H62V15.5H65V133.5Z"/><g fill="#e9e07c"><rect x="10.3" y="20.6" width="2.4" height="2.4"/><rect x="15" y="20.6" width="2.4" height="2.4"/><rect x="24.4" y="20.6" width="2.4" height="2.4"/><rect x="5.6" y="25.4" width="2.4" height="2.4"/><rect x="10.3" y="25.4" width="2.4" height="2.4"/><rect x="19.7" y="25.4" width="2.4" height="2.4"/><rect x="5.6" y="30.1" width="2.4" height="2.4"/></g></svg>
<div style="position:absolute;left:1114.5px;width:65px;top:369.4px;height:91.2px;background:#ffd100"></div>
<div class="abs num" style="left:1119.7px;top:425.6px">77</div><div class="abs pct" style="left:1158.9px;top:438.1px">%</div>
<div class="abs ax" style="left:1126.7px;top:476.1px">10</div>
<div class="axis"></div>
<div class="abs gl" style="left:47.6px;top:475px">Групи ліній</div>
</div>
<svg class="bld" style="left:99.8px;top:1126px;height:84.5px" viewBox="0 0 66 84.5"><path fill="#1f3a54" d="M1,133.5V15.5H3V13.2H4V15.5H6.3V11.2H12.3V6.2H15.6V1H16.8V6.2H28V11.2H37.5V6.2H47.5V1H48.7V6.2H52.6V11.2H58.6V15.5H61V13.2H62V15.5H65V133.5Z"/><g fill="#e9e07c"><rect x="10.3" y="20.6" width="2.4" height="2.4"/><rect x="15" y="20.6" width="2.4" height="2.4"/><rect x="24.4" y="20.6" width="2.4" height="2.4"/><rect x="5.6" y="25.4" width="2.4" height="2.4"/><rect x="10.3" y="25.4" width="2.4" height="2.4"/><rect x="19.7" y="25.4" width="2.4" height="2.4"/><rect x="5.6" y="30.1" width="2.4" height="2.4"/></g></svg>
<div style="position:absolute;left:100.6px;width:64.9px;top:1159.5px;height:51.6px;background:#ffd100"></div>
<div class="abs" style="left:121.3px;top:1175.6px;font-size:33px;font-weight:bold;color:#1f2d2d;-webkit-text-stroke:0.7px #1f2d2d;transform:scaleX(.84);transform-origin:0 0">%</div>
<div class="abs leg" style="left:188.8px;top:1152.5px;font-size:22.6px;transform:scaleX(1.081);transform-origin:0 0">Відсоток світла на добу в кожній групі ліній</div>
<div class="abs leg" style="left:190.2px;top:1178px;font-size:22.3px;transform:scaleX(1.0717);transform-origin:0 0">за даними ДТЕК Київські електромережі</div>
<div class="abs" id="yasno" style="left:966.6px;top:1153.2px;font-size:52.4px;color:#1f3a54;-webkit-text-stroke:1.6px #1f3a54;letter-spacing:0.2px">Yasno</div>
<svg style="position:absolute;left:1100px;top:1125px" width="90" height="80" viewBox="1100 1125 90 80"><path fill="#f6a71c" d="M1117.9,1136.2L1136.6,1147.5Q1145,1151.5 1153.4,1146.8L1171,1136.6L1180.2,1151.4L1163,1161.5Q1154,1168 1153.8,1181L1153.8,1197.8L1136.2,1197.8L1136.2,1165.8L1109.8,1151.4Z"/></svg>
<div style="position:absolute;left:1279px;top:0;width:1px;height:1px;background:#000"></div>
</body></html>
